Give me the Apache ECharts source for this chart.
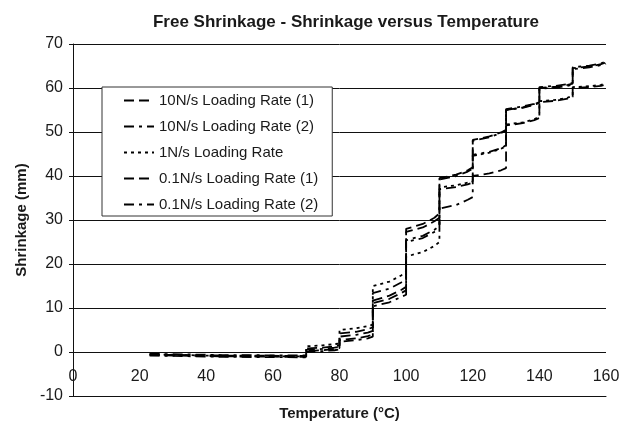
<!DOCTYPE html>
<html>
<head>
<meta charset="utf-8">
<script src="https://cdn.jsdelivr.net/npm/echarts@6/dist/echarts.min.js"></script>
<style>
html, body { margin: 0; padding: 0; background: #fff; }
#chart { width: 627px; height: 428px; }
</style>
</head>
<body>
<div id="chart"></div>
<script>
// shared temperature steps (°C); a repeated value marks a vertical jump
const temps = [23, 45, 70,
  70, 75, 78.5, 80,
  80, 85, 88.5, 90,
  90, 95, 98.5, 100,
  100, 105, 108.5, 110,
  110, 115, 118.5, 120,
  120, 125, 128.5, 130,
  130, 135, 138.5, 140,
  140, 145, 148.5, 150,
  150, 155, 158.5, 160]

const rate10a = [-0.6, -0.8, -0.9,
  0.8, 1.0, 1.3, 1.5,
  4.2, 4.6, 5.2, 5.6,
  11.7, 12.8, 14.1, 14.8,
  28.0, 29.1, 30.5, 31.5,
  39.5, 40.3, 41.3, 42.0,
  48.2, 49.0, 49.9, 50.5,
  55.0, 55.6, 56.3, 56.8,
  60.0, 60.3, 60.7, 61.0,
  64.5, 64.9, 65.4, 65.8]
const rate10b = [-0.4, -0.7, -0.8,
  0.5, 0.7, 1.0, 1.2,
  3.5, 3.9, 4.4, 4.8,
  13.4, 14.4, 15.8, 16.5,
  25.4, 26.4, 27.8, 28.6,
  39.2, 40.0, 41.0, 41.7,
  48.0, 48.8, 49.8, 50.3,
  55.2, 55.8, 56.4, 57.0,
  60.2, 60.5, 60.9, 61.2,
  64.7, 65.1, 65.6, 66.0]
const rate1 = [-0.5, -0.9, -1.0,
  1.3, 1.5, 1.8, 1.9,
  5.0, 5.4, 5.9, 6.2,
  15.0, 16.0, 17.4, 18.3,
  21.7, 22.7, 24.1, 25.0,
  37.4, 37.9, 38.5, 38.8,
  44.6, 45.3, 46.2, 46.8,
  51.7, 52.2, 52.9, 53.5,
  57.0, 57.3, 57.8, 58.2,
  60.2, 60.4, 60.7, 61.0]
const rate01a = [-0.7, -1.0, -1.1,
  0.2, 0.4, 0.7, 0.9,
  2.7, 3.1, 3.6, 4.0,
  11.1, 12.1, 13.4, 14.0,
  27.3, 28.3, 29.7, 30.5,
  37.0, 37.5, 38.1, 38.5,
  40.0, 40.6, 41.3, 41.8,
  51.5, 52.0, 52.7, 53.2,
  56.8, 57.1, 57.6, 58.0,
  60.0, 60.2, 60.5, 60.8]
const rate01b = [-0.8, -1.1, -1.2,
  0.0, 0.2, 0.4, 0.6,
  2.3, 2.7, 3.1, 3.5,
  10.4, 11.3, 12.5, 13.0,
  25.0, 25.9, 27.3, 28.0,
  32.6, 33.4, 34.6, 35.2,
  44.8, 45.5, 46.3, 47.0,
  55.0, 55.5, 56.2, 56.6,
  59.8, 60.1, 60.5, 60.8,
  64.3, 64.7, 65.2, 65.5]

const names = ['10N/s Loading Rate (1)', '10N/s Loading Rate (2)', '1N/s Loading Rate',
  '0.1N/s Loading Rate (1)', '0.1N/s Loading Rate (2)']
const values = [rate10a, rate10b, rate1, rate01a, rate01b]
const dashes = [[10, 5], [10, 5, 3, 5], [3, 4], [10, 5], [10, 5, 3, 5]]

const font = 'Liberation Sans, Arial, sans-serif'
const ink = '#1a1a1a'

const chart = echarts.init(document.getElementById('chart'))
chart.setOption({
  animation: false,
  title: {
    text: 'Free Shrinkage - Shrinkage versus Temperature',
    left: 341,
    textAlign: 'center',
    top: 9,
    textStyle: { fontFamily: font, fontSize: 17, fontWeight: 'bold', color: ink }
  },
  grid: { left: 73, right: 21, top: 44, bottom: 32, outerBoundsMode: 'none' },
  legend: {
    orient: 'vertical',
    left: 102,
    top: 87,
    padding: [6, 14, 4, 21],
    itemGap: 11,
    itemWidth: 30,
    itemHeight: 14,
    align: 'left',
    backgroundColor: '#fff',
    borderColor: '#333',
    borderWidth: 1,
    itemStyle: { opacity: 0 },
    textStyle: { fontFamily: font, fontSize: 15, color: ink },
    data: names
  },
  xAxis: {
    type: 'value',
    min: 0,
    max: 160,
    interval: 20,
    name: 'Temperature (°C)',
    nameLocation: 'middle',
    nameGap: 10,
    nameTextStyle: { fontFamily: font, fontSize: 15, fontWeight: 'bold', color: ink },
    // the zero line is the y split line; labels sit just under it
    axisLine: { onZero: false, lineStyle: { color: '#111', width: 1 } },
    axisTick: { show: false },
    axisLabel: { margin: -27, fontFamily: font, fontSize: 16, color: ink },
    splitLine: { show: false }
  },
  yAxis: {
    type: 'value',
    min: -10,
    max: 70,
    interval: 10,
    name: 'Shrinkage (mm)',
    nameLocation: 'middle',
    nameGap: 44,
    nameTextStyle: { fontFamily: font, fontSize: 15, fontWeight: 'bold', color: ink },
    axisLine: { show: true, lineStyle: { color: '#111', width: 1 } },
    axisTick: { show: true, length: 4, lineStyle: { color: '#111' } },
    axisLabel: { margin: 10, fontFamily: font, fontSize: 16, color: ink },
    splitLine: { show: true, lineStyle: { color: '#111', width: 1 } }
  },
  series: names.map((n, i) => ({
    name: n,
    type: 'line',
    symbol: 'none',
    showSymbol: false,
    data: temps.map((t, j) => [t, values[i][j]]),
    lineStyle: { color: '#000', width: 1.8, type: dashes[i] },
    itemStyle: { color: '#000' }
  }))
})
</script>
</body>
</html>
